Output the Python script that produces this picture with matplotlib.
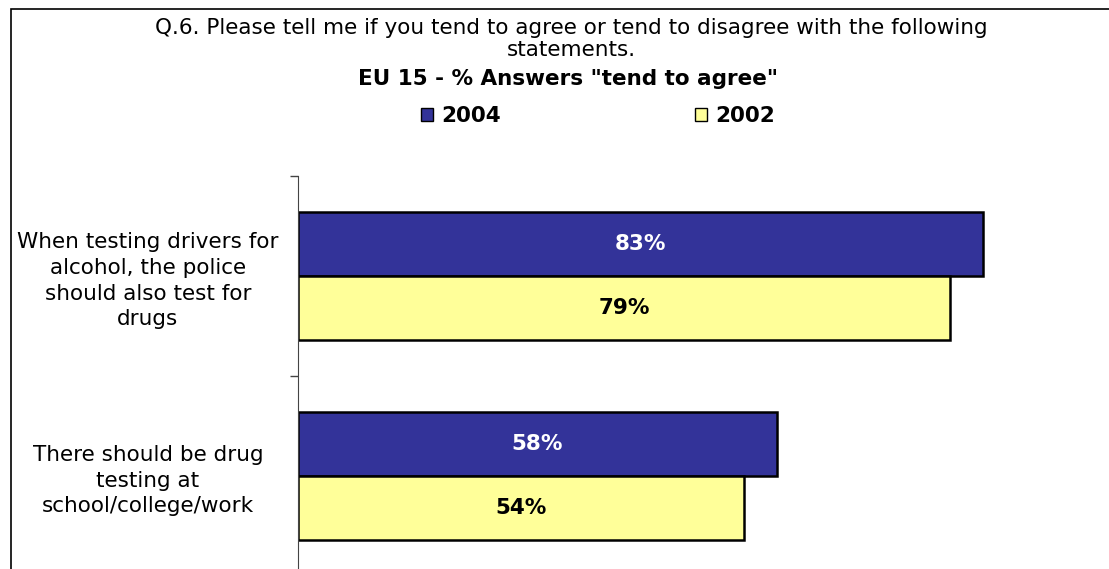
import matplotlib
matplotlib.use('Agg')
import matplotlib.pyplot as plt
from matplotlib.patches import Patch, Rectangle

statements = ['When testing drivers for\nalcohol, the police\nshould also test for\ndrugs',
              'There should be drug\ntesting at\nschool/college/work']
vals_2004 = [83, 58]
vals_2002 = [79, 54]
series = ['2004', '2002']
colors = ['#333399', '#FFFF99']

plt.rcParams['font.family'] = 'DejaVu Sans'

W, H = 1109, 569
fig = plt.figure(figsize=(W / 100, H / 100), dpi=100)

# axes: left edge at x=298px, categories boundaries at y=176..576px (runs past bottom)
ax = fig.add_axes([298 / W, 1 - 576 / H, (W - 298) / W, 400 / H])
ax.set_xlim(0, (W - 298) / 8.25)
ax.set_ylim(1.5, -0.5)

h = 0.32
y = list(range(len(statements)))
ax.barh([i - h / 2 for i in y], vals_2004, height=h, color=colors[0],
        edgecolor='black', linewidth=1.8)
ax.barh([i + h / 2 for i in y], vals_2002, height=h, color=colors[1],
        edgecolor='black', linewidth=1.8)

for i, v in enumerate(vals_2004):
    ax.text(v / 2, i - h / 2, f'{v}%', ha='center', va='center', color='white',
            fontsize=15.5, fontweight='bold')
for i, v in enumerate(vals_2002):
    ax.text(v / 2, i + h / 2, f'{v}%', ha='center', va='center', color='black',
            fontsize=15.5, fontweight='bold')

for s in ['top', 'right', 'bottom']:
    ax.spines[s].set_visible(False)
ax.spines['left'].set_color('#444444')
ax.xaxis.set_visible(False)

ax.set_yticks(y)
ax.set_yticklabels(statements, fontsize=15.5, ha='center', linespacing=1.35)
ax.tick_params(axis='y', which='major', length=0, pad=108)
ax.set_yticks([-0.5, 0.5, 1.5], minor=True)
ax.tick_params(axis='y', which='minor', length=6, width=1, color='#444444')

fig.text(571 / W, 1 - 28 / H, 'Q.6. Please tell me if you tend to agree or tend to disagree with the following',
         ha='center', va='center', fontsize=15.5)
fig.text(571 / W, 1 - 50 / H, 'statements.', ha='center', va='center', fontsize=15.5)
fig.text(568 / W, 1 - 79 / H, 'EU 15 - % Answers "tend to agree"', ha='center', va='center',
         fontsize=15.5, fontweight='bold')

handles = [Patch(facecolor=c, edgecolor='black', linewidth=1) for c in colors]
fig.legend(handles, series, loc='center', bbox_to_anchor=(598 / W, 1 - 116 / H), ncol=2,
           frameon=False, prop={'weight': 'bold', 'size': 15.5}, handlelength=0.55,
           handleheight=0.55, handletextpad=0.4, columnspacing=9.0)

# outer frame (cropped on right and bottom)
fig.patches.append(Rectangle((11 / W, -0.5), 2, 1.5 - 9 / H, transform=fig.transFigure,
                             fill=False, edgecolor='black', linewidth=1.2))

fig.savefig('out.png', dpi=100)
